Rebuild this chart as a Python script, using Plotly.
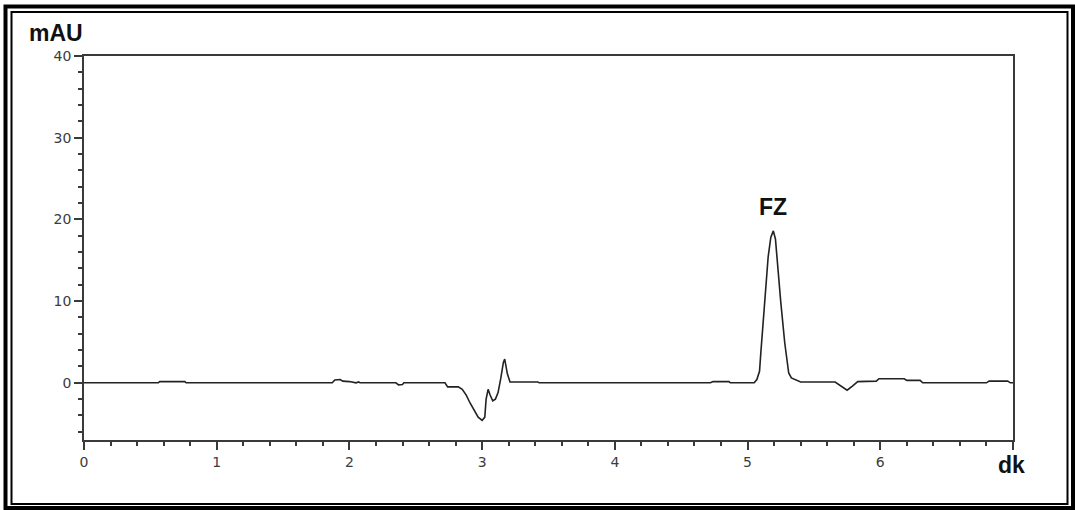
import plotly.graph_objects as go

# Chromatogram: retention time (dk) vs absorbance (mAU)
time_min = [
    0.00, 0.56, 0.57, 0.76, 0.77, 1.87, 1.89, 1.93, 1.95, 2.00, 2.05, 2.07, 2.08,
    2.35, 2.37, 2.40, 2.41, 2.72, 2.74, 2.82, 2.85, 2.88, 2.91, 2.94, 2.97, 3.00,
    3.02, 3.03, 3.045, 3.06, 3.08, 3.10, 3.12, 3.14, 3.16, 3.17, 3.18, 3.19, 3.21,
    3.42, 3.43, 4.72, 4.74, 4.86, 4.87, 5.05, 5.07, 5.09, 5.10, 5.13, 5.155, 5.175,
    5.194, 5.21, 5.22, 5.25, 5.28, 5.31, 5.33, 5.36, 5.40, 5.66, 5.70, 5.75, 5.79,
    5.83, 5.97, 5.99, 6.18, 6.20, 6.30, 6.32, 6.80, 6.82, 6.96, 6.98, 7.00,
]
signal_mau = [
    0.0, 0.0, 0.15, 0.15, 0.0, 0.0, 0.35, 0.4, 0.2, 0.15, 0.0, 0.1, 0.0,
    0.0, -0.25, -0.2, 0.0, 0.0, -0.5, -0.5, -0.8, -1.5, -2.5, -3.3, -4.2, -4.6,
    -4.2, -2.0, -0.8, -1.5, -2.2, -2.0, -1.2, 0.5, 2.5, 2.9, 2.0, 1.1, 0.1,
    0.1, 0.0, 0.0, 0.15, 0.15, 0.0, 0.0, 0.4, 1.4, 3.7, 9.9, 15.4, 17.8,
    18.6, 17.6, 15.4, 9.9, 4.9, 1.2, 0.6, 0.4, 0.1, 0.1, -0.3, -0.9, -0.4,
    0.15, 0.2, 0.5, 0.5, 0.3, 0.3, 0.0, 0.0, 0.2, 0.2, 0.0, 0.0,
]

x_ticks = [0, 1, 2, 3, 4, 5, 6, 7]
x_tick_text = ["0", "1", "2", "3", "4", "5", "6", ""]
y_ticks = [0, 10, 20, 30, 40]

peak_label = "FZ"
peak_time = 5.194
peak_height = 18.6

W, H = 1075, 510
L, R, T, B = 84, 62, 56, 70
PW, PH = W - L - R, H - T - B


def px(x):
    return (x - L) / PW


def py(y):
    return (H - B - y) / PH


axis_color = "#3a3a3a"
text_color = "#3c3c3c"
tick_font = dict(family="DejaVu Sans", size=14, color=text_color)

fig = go.Figure()
fig.add_trace(go.Scatter(
    x=time_min, y=signal_mau, mode="lines",
    line=dict(color="#222222", width=1.6),
    hoverinfo="skip", showlegend=False,
))

fig.add_annotation(
    x=peak_time, y=peak_height, text=f"<b>{peak_label}</b>", showarrow=False,
    yshift=24, font=dict(family="Liberation Sans, Arial", size=23, color="#111111"),
)
fig.add_annotation(
    xref="paper", yref="paper", x=px(27), y=py(33), xanchor="left", yanchor="middle",
    text="<b>mAU</b>", showarrow=False,
    font=dict(family="Liberation Sans, Arial", size=23, color="#111111"),
)
fig.add_annotation(
    xref="paper", yref="paper", x=px(1011), y=py(465), xanchor="center", yanchor="middle",
    text="<b>dk</b>", showarrow=False,
    font=dict(family="Liberation Sans, Arial", size=23, color="#111111"),
)

# double frame around the whole chart
fig.add_shape(type="rect", xref="paper", yref="paper",
              x0=px(5.5), y0=py(6.5), x1=px(1073), y1=py(508),
              line=dict(color="black", width=4), layer="above")
fig.add_shape(type="rect", xref="paper", yref="paper",
              x0=px(11.5), y0=py(12), x1=px(1067.5), y1=py(504),
              line=dict(color="black", width=2), layer="above")

fig.update_xaxes(
    range=[0, 7], tickvals=x_ticks, ticktext=x_tick_text,
    showline=True, linecolor=axis_color, linewidth=1.5, mirror=True,
    ticks="outside", ticklen=8, tickwidth=1.5, tickcolor=axis_color,
    minor=dict(dtick=0.2, tick0=0, ticks="outside", ticklen=4, tickwidth=1.5,
               tickcolor=axis_color, showgrid=False),
    showgrid=False, zeroline=False,
    tickfont=tick_font,
)
fig.update_yaxes(
    range=[-7, 40], tickvals=y_ticks,
    showline=True, linecolor=axis_color, linewidth=1.5, mirror=True,
    ticks="outside", ticklen=8, tickwidth=1.5, tickcolor=axis_color,
    minor=dict(dtick=2, tick0=0, ticks="outside", ticklen=4, tickwidth=1.5,
               tickcolor=axis_color, showgrid=False),
    showgrid=False, zeroline=False,
    tickfont=tick_font,
)

fig.update_layout(
    width=W, height=H, autosize=False,
    margin=dict(l=L, r=R, t=T, b=B),
    paper_bgcolor="white", plot_bgcolor="white",
)

fig.write_html("out.html")
